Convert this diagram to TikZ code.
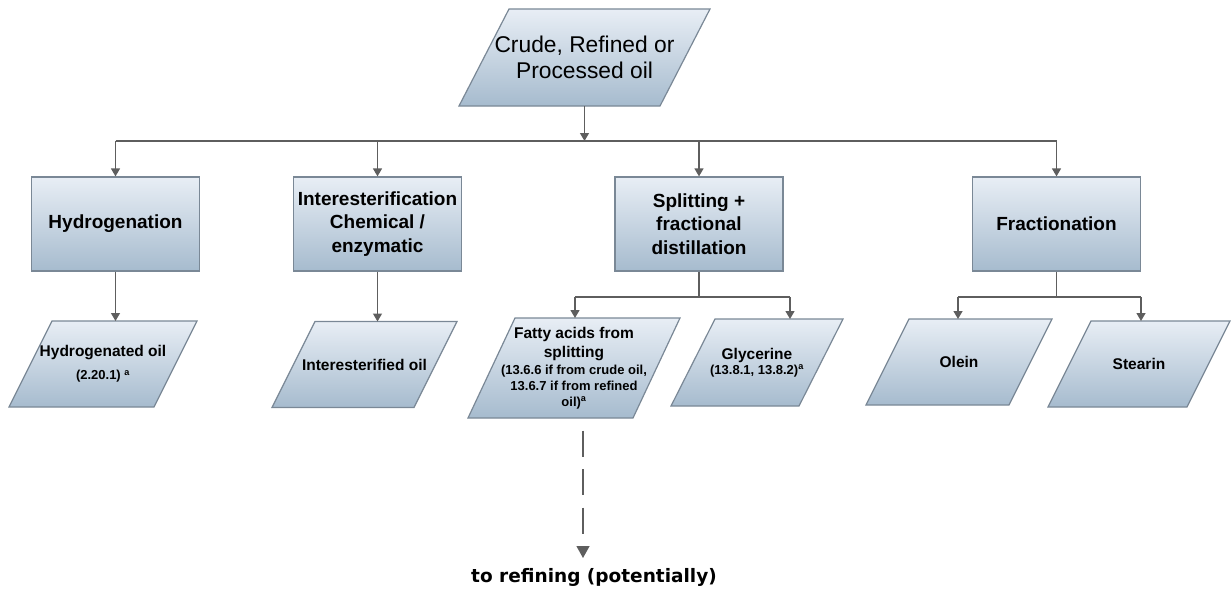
\documentclass[tikz,border=0pt]{standalone}
\usepackage{fontspec}
\setmainfont{Liberation Sans}
\newfontfamily\notefont{DejaVu Sans}
\usetikzlibrary{arrows.meta,backgrounds}
\definecolor{boxtop}{HTML}{E8EEF5}
\definecolor{boxbot}{HTML}{A6BBCE}
\definecolor{boxedge}{HTML}{7A8896}
\definecolor{wirecol}{HTML}{5E5E5E}
\newcommand{\smallnote}[1]{{\fontsize{13}{15.5}\selectfont #1}}
% slanted (data) frame behind a node: #1 node name, #2 horizontal lean in pt
\newcommand{\slantframe}[2]{%
  \begin{scope}[on background layer]
    \path[shadedbox] ([xshift=#2pt]#1.north west) -- (#1.north east)
      -- ([xshift=-#2pt]#1.south east) -- (#1.south west) -- cycle;
  \end{scope}}
\begin{document}
\begin{tikzpicture}[x=1pt,y=-1pt,
  shadedbox/.style={draw=boxedge, line width=1.2pt, top color=boxtop, bottom color=boxbot},
  proc/.style={shadedbox, rectangle, minimum width=168pt, minimum height=94pt,
    inner sep=0pt, align=center, font=\bfseries\fontsize{19}{23.5}\selectfont},
  prod/.style={rectangle, inner sep=0pt, outer sep=0pt, align=center,
    font=\bfseries\fontsize{15.5}{19}\selectfont},
  wire/.style={draw=wirecol, line width=1.3pt},
  arr/.style={wire, -{Triangle[width=9pt,length=8pt]}},
]
\useasboundingbox (0,0) rectangle (1231,602);

% source
\node[prod, minimum width=251pt, minimum height=97pt,
      font=\fontsize{22.8}{26}\selectfont] (crude) at (584.5,57.5)
  {\raisebox{-3pt}{Crude, Refined or}\\\raisebox{-3pt}{Processed oil}};
\slantframe{crude}{50}

% process steps
\node[proc] (hyd)   at (115.5,224) {Hydrogenation};
\node[proc] (inter) at (377.5,224) {Interesterification\\Chemical /\\enzymatic};
\node[proc] (split) at (699,224)   {Splitting +\\fractional\\distillation};
\node[proc] (frac)  at (1056.5,224) {Fractionation};

% products
\node[prod, minimum width=188pt, minimum height=86pt] (hydoil) at (103,364)
  {Hydrogenated oil\\[4pt]\smallnote{(2.20.1) \textsuperscript{a}}};
\slantframe{hydoil}{43}
\node[prod, minimum width=185pt, minimum height=86pt] (interoil) at (364.5,364.5)
  {Interesterified oil};
\slantframe{interoil}{43}
\node[prod, minimum width=212pt, minimum height=100pt] (fatty) at (574,368)
  {Fatty acids from\\splitting\\[-2pt]\smallnote{(13.6.6 if from crude oil,}\\[-3pt]
   \smallnote{13.6.7 if from refined}\\[-3pt]\smallnote{oil)\textsuperscript{a}}};
\slantframe{fatty}{47}
\node[prod, minimum width=172pt, minimum height=87pt] (glyc) at (757,362.5)
  {Glycerine\\[-4pt]\smallnote{(13.8.1, 13.8.2)\textsuperscript{a}}};
\slantframe{glyc}{44}
\node[prod, minimum width=186pt, minimum height=86pt] (olein) at (959,362) {Olein};
\slantframe{olein}{43}
\node[prod, minimum width=182pt, minimum height=86pt] (stearin) at (1139,364) {Stearin};
\slantframe{stearin}{43}

\node[font=\notefont\bfseries\fontsize{18.5}{21}\selectfont, inner sep=0pt]
  (refine) at (594,577) {to refining (potentially)};

% distribution bus from the source
\coordinate (bus) at (584.5,141);
\draw[arr] (crude.south) -- (bus);
\draw[wire] (hyd.north |- bus) -- (frac.north |- bus);
\foreach \b in {hyd,inter,split,frac}
  \draw[arr] (\b.north |- bus) -- (\b.north);

% steps to products
\draw[arr] (hyd.south) -- (hyd.south |- hydoil.north);
\draw[arr] (inter.south) -- (inter.south |- interoil.north);

\coordinate (sl) at (575,297);
\coordinate (sr) at (790,297);
\draw[wire] (split.south) -- (split.south |- sl);
\draw[wire] (sl) -- (sr);
\draw[arr] (sl) -- (sl |- fatty.north);
\draw[arr] (sr) -- (sr |- glyc.north);

\coordinate (fl) at (958,297);
\coordinate (fr) at (1141,297);
\draw[wire] (frac.south) -- (frac.south |- fl);
\draw[wire] (fl) -- (fr);
\draw[arr] (fl) -- (fl |- olein.north);
\draw[arr] (fr) -- (fr |- stearin.north);

% optional route of the fatty acids
\coordinate (dend) at (583,558);
\draw[wire, dash pattern=on 26pt off 12.5pt, dash phase=26pt,
      -{Triangle[width=13pt,length=12pt]}]
  ([xshift=9pt]fatty.south) -- (dend);
\end{tikzpicture}
\end{document}
